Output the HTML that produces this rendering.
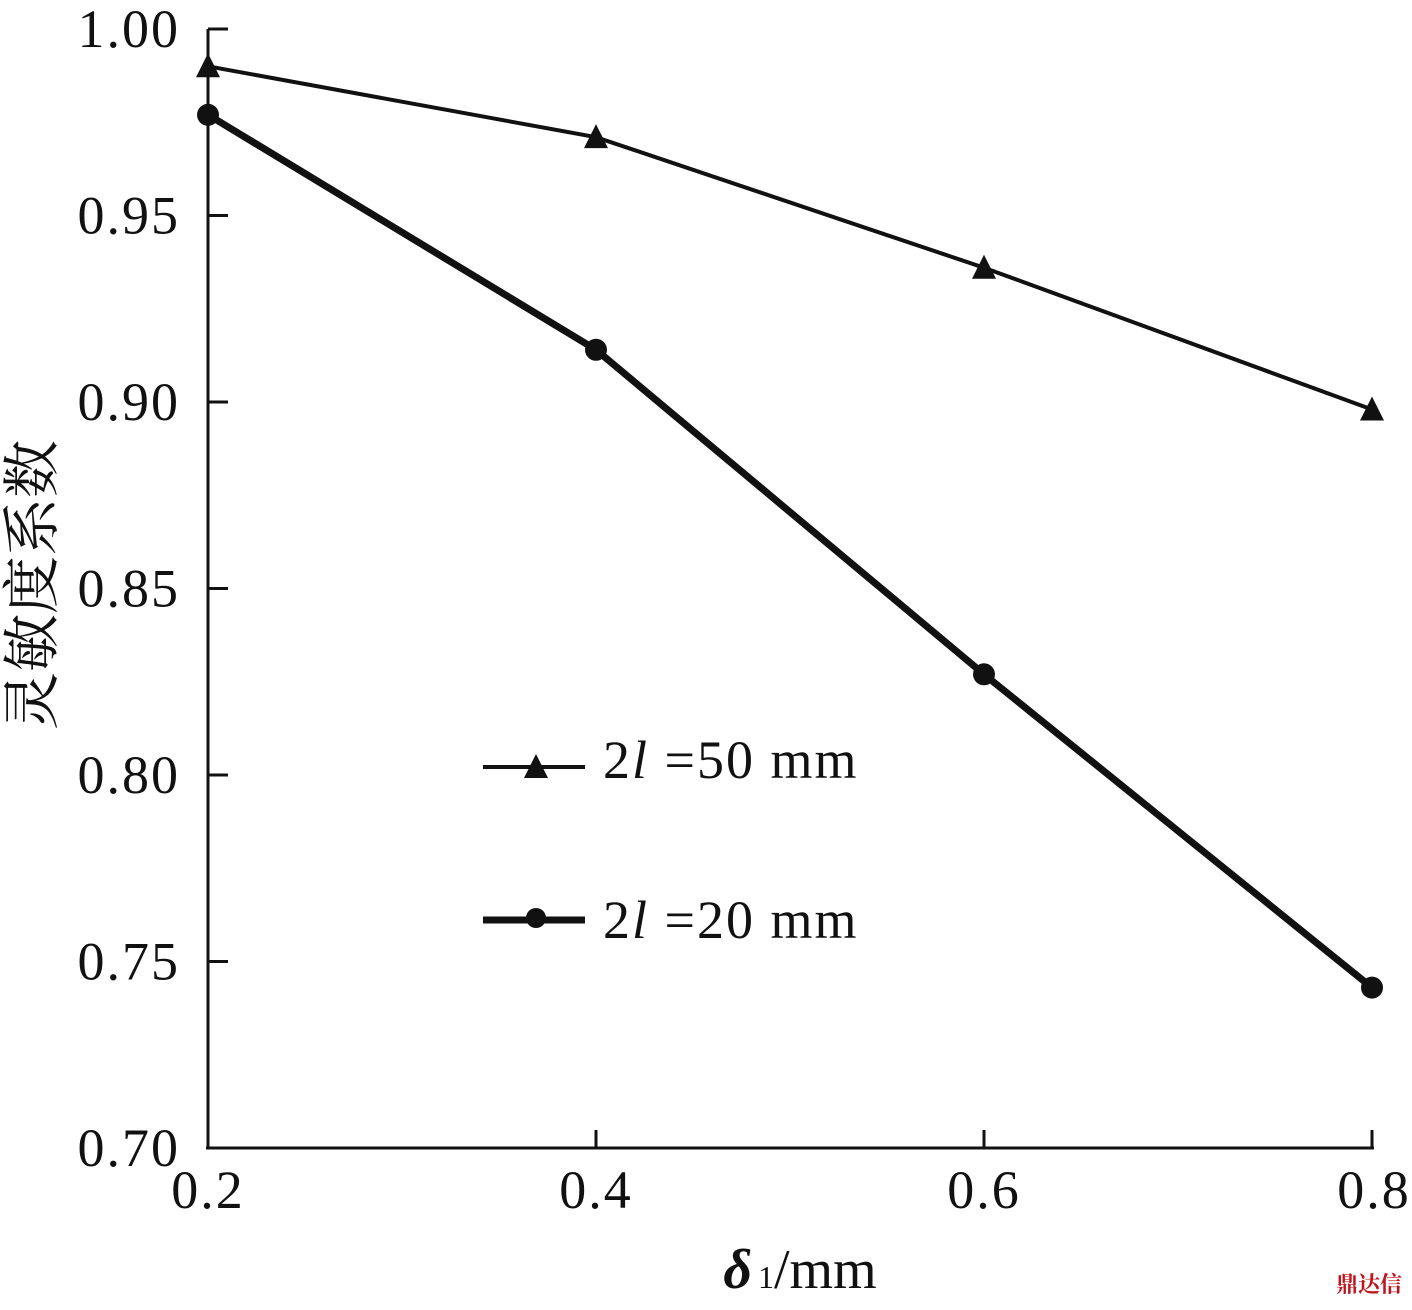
<!DOCTYPE html>
<html><head><meta charset="utf-8"><style>
body{margin:0;background:#fff}
svg text{font-family:"Liberation Serif","Noto Serif CJK SC",serif;fill:#111}
</style></head><body>
<svg width="1412" height="1305" viewBox="0 0 1412 1305" xmlns="http://www.w3.org/2000/svg">
<g id="axes"></g>
<g id="marks"></g>
<g>
  <line x1="483" y1="767" x2="585" y2="767" stroke="#111" stroke-width="4"/>
  <polygon points="536,754 548,778 524,778" fill="#111"/>
  <text x="603" y="778" font-size="54" letter-spacing="2">2<tspan font-style="italic">l</tspan> =50 mm</text>
  <line x1="483" y1="920" x2="585" y2="920" stroke="#111" stroke-width="7"/>
  <circle cx="536" cy="918" r="10" fill="#111"/>
  <text x="603" y="938" font-size="54" letter-spacing="2">2<tspan font-style="italic">l</tspan> =20 mm</text>
</g>
<text x="800" y="1288" font-size="56" text-anchor="middle"><tspan font-weight="bold" font-style="italic">δ</tspan><tspan font-size="32" dx="6">1</tspan>/mm</text>
<text transform="translate(52,585) rotate(-90)" font-size="58" text-anchor="middle">灵敏度系数</text>
<text x="1402" y="1292" font-size="22" fill="#c0141c" style="fill:#c0141c" text-anchor="end" font-weight="bold">鼎达信</text>
</svg>
<script>
const xCats=[0.2,0.4,0.6,0.8];
const s50=[0.990,0.971,0.936,0.898];
const s20=[0.977,0.914,0.827,0.743];
const yTicks=[0.70,0.75,0.80,0.85,0.90,0.95,1.00];
const xTickLabels=["0.2","0.4","0.6","0.8"];
const yTickLabels=["0.70","0.75","0.80","0.85","0.90","0.95","1.00"];
const NS="http://www.w3.org/2000/svg";
const X=v=>208+(v-0.2)/0.6*1164;
const Y=v=>1148-(v-0.7)/0.3*1119;
function mk(t,a,p){const e=document.createElementNS(NS,t);for(const k in a)e.setAttribute(k,a[k]);p.appendChild(e);return e;}
const ax=document.getElementById('axes'),mg=document.getElementById('marks');
let l=mk('line',{x1:208,y1:Y(1),x2:208,y2:1148,stroke:'#111','stroke-width':3},ax);


l=mk('line',{x1:206,y1:1148,x2:1374,y2:1148,stroke:'#111','stroke-width':3},ax);


yTicks.forEach((v,i)=>{
  if(i>0){const t=mk('line',{x1:208,y1:Y(v),x2:228,y2:Y(v),stroke:'#111','stroke-width':3},ax);
  
  }
  const tx=mk('text',{x:180,y:Y(v)+18,'font-size':54,'letter-spacing':2,'text-anchor':'end'},ax);tx.textContent=yTickLabels[i];
  
  
});
xCats.forEach((v,i)=>{
  if(i>0){const t=mk('line',{x1:X(v),y1:1148,x2:X(v),y2:1130,stroke:'#111','stroke-width':3},ax);
  
  }
  const tx=mk('text',{x:X(v)-(i==3?-2:0),y:1208,'font-size':54,'letter-spacing':2,'text-anchor':'middle'},ax);tx.textContent=xTickLabels[i];
  
  
});
let p=mk('polyline',{points:xCats.map((x,i)=>X(x)+','+Y(s50[i])).join(' '),fill:'none',stroke:'#111','stroke-width':4},mg);


p=mk('polyline',{points:xCats.map((x,i)=>X(x)+','+Y(s20[i])).join(' '),fill:'none',stroke:'#111','stroke-width':7},mg);


xCats.forEach((x,i)=>{
  const cx=X(x),cy=Y(s50[i]);
  const t=mk('polygon',{points:`${cx},${cy-13} ${cx+12},${cy+11} ${cx-12},${cy+11}`,fill:'#111'},mg);
  
  
  const c=mk('circle',{cx:cx,cy:Y(s20[i]),r:11,fill:'#111'},mg);
  
  
});
</script>
</body></html>
